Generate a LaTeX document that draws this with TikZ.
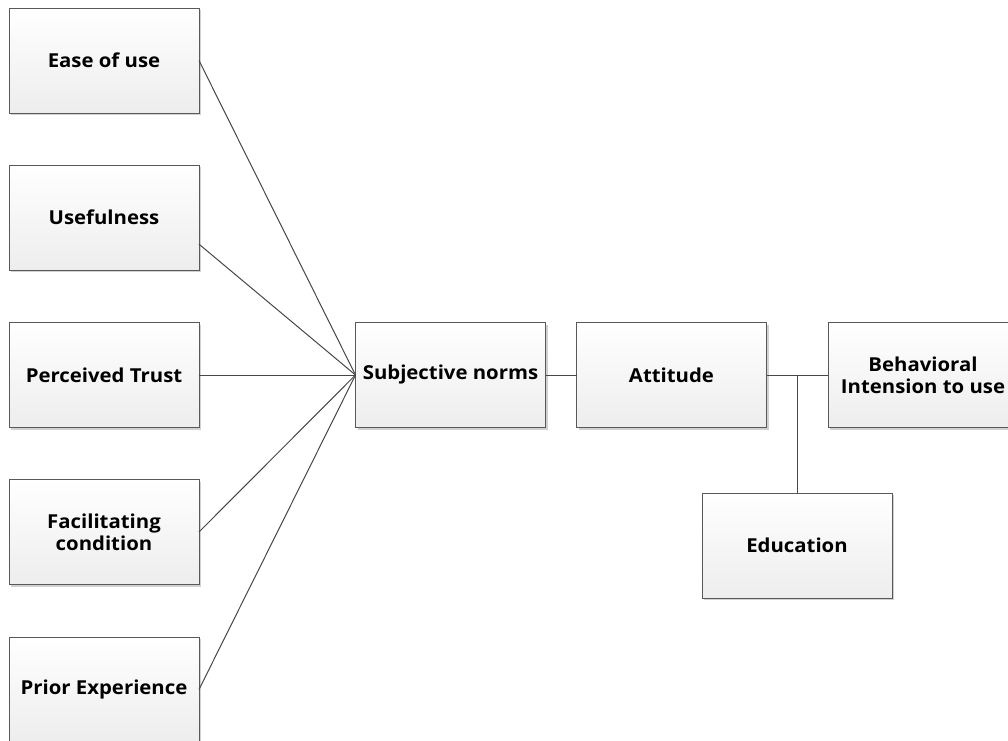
\documentclass[tikz,border=0pt]{standalone}
\usepackage{fontspec}
\setmainfont{Open Sans}[FakeStretch=1.06]
\usetikzlibrary{shadows}
\begin{document}
\begin{tikzpicture}[x=0.75pt,y=-0.75pt,
  box/.style={draw=black!65, line width=0.75pt, top color=white, bottom color=black!7,
    minimum width=142.5pt, minimum height=78.75pt, inner sep=1pt, outer sep=0pt,
    align=center, font=\fontsize{14.4}{16.5}\selectfont\bfseries,
    drop shadow={shadow xshift=1.5pt, shadow yshift=-1.5pt, fill=black!18, opacity=1}},
  link/.style={draw=black!72, line width=0.75pt}]
\useasboundingbox (0,0) rectangle (1008,740);
\node[box] (ease) at (104,60.5) {Ease of use};
\node[box] (useful) at (104,217.5) {Usefulness};
\node[box] (trust) at (104,375) {Perceived Trust};
\node[box] (facil) at (104,532) {Facilitating\\condition};
\node[box] (prior) at (104,689.5) {Prior Experience};
\node[box] (sn) at (450.5,375) {Subjective norms};
\node[box] (att) at (671.5,375) {Attitude};
\node[box] (bi) at (923,375) {Behavioral\\Intension to use};
\node[box] (edu) at (797,545.5) {Education};
\coordinate (j) at (797,375);
\draw[link] (ease.east) -- (sn.west);
\draw[link] ([yshift=-20pt]useful.east) -- (sn.west);
\draw[link] (trust.east) -- (sn.west);
\draw[link] (facil.east) -- (sn.west);
\draw[link] (prior.east) -- (sn.west);
\draw[link] (sn.east) -- (att.west);
\draw[link] (att.east) -- (bi.west);
\draw[link] (j) -- (edu.north);
\end{tikzpicture}
\end{document}
